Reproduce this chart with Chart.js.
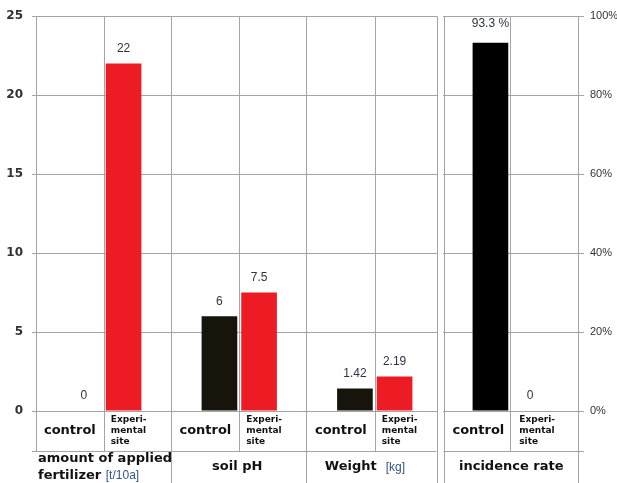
<!DOCTYPE html>
<html>
<head>
<meta charset="utf-8">
<script src="https://cdn.jsdelivr.net/npm/chart.js@4.4.1/dist/chart.umd.min.js"></script>
<style>
  html, body { margin: 0; padding: 0; background: #fff; }
  #wrap { width: 617px; height: 483px; }
</style>
</head>
<body>
<div id="wrap"><canvas id="chart" width="617" height="483"></canvas></div>
<script>
// groups along the x axis (two text lines for the first one)
const groups = [['amount of applied', 'fertilizer'], ['soil pH'], ['Weight'], ['incidence rate']];
const units = ['[t/10a]', '', '[kg]', ''];
const subLabels = ['control', ['Experi-', 'mental', 'site']];

// left axis values
const controlValues = [0, 6, 1.42, null];
const siteValues = [22, 7.5, 2.19, null];
// right axis values (%)
const incidenceControl = [null, null, null, 93.3];
const incidenceSite = [null, null, null, 0];

const leftMax = 25, leftStep = 5;
const rightMax = 100, rightStep = 20;

const GRID = '#a4a4a4';
const RED = '#ed1c24';
const DARK = '#17140c';
const TEXT = '#111';
const FONT = 'DejaVu Sans';

function line(ctx, x1, y1, x2, y2) {
  ctx.beginPath();
  ctx.moveTo(x1, y1);
  ctx.lineTo(x2, y2);
  ctx.stroke();
}

// vertical dividers, the gap before the last panel and the table under the plot
const tablePlugin = {
  id: 'table',
  beforeDatasetsDraw(chart) {
    const { ctx, chartArea: a } = chart;
    const step = (a.right - a.left) / groups.length;
    const bottom = chart.height;
    const row1 = a.bottom + 40;
    const gapL = a.left + 3 * step - 6, gapR = a.left + 3 * step + 1;
    ctx.save();
    ctx.fillStyle = '#fff';
    ctx.fillRect(gapL + 0.5, 0, gapR - gapL - 1, bottom);
    ctx.strokeStyle = GRID;
    ctx.lineWidth = 1;
    line(ctx, a.left - 4, row1 + 0.5, gapL, row1 + 0.5);
    line(ctx, gapR, row1 + 0.5, a.right + 6, row1 + 0.5);
    line(ctx, a.left + 0.5, a.top, a.left + 0.5, row1);
    for (let i = 0; i < groups.length; i++) {
      const mid = Math.round(a.left + (i + 0.5) * step) + 0.5;
      line(ctx, mid, a.top, mid, row1);
    }
    [a.left + step - 1, a.left + 2 * step - 1].forEach(x => {
      x = Math.round(x) + 0.5;
      line(ctx, x, a.top, x, bottom);
    });
    line(ctx, Math.round(gapL) + 0.5, a.top, Math.round(gapL) + 0.5, bottom);
    line(ctx, Math.round(gapR) + 0.5, a.top, Math.round(gapR) + 0.5, bottom);
    line(ctx, Math.round(a.right) + 0.5, a.top, Math.round(a.right) + 0.5, bottom);
    ctx.restore();
  },
  afterDraw(chart) {
    const { ctx, chartArea: a } = chart;
    const step = (a.right - a.left) / groups.length;
    ctx.save();
    ctx.fillStyle = TEXT;
    ctx.textBaseline = 'middle';

    // value labels
    ctx.font = '12px "Liberation Sans"';
    ctx.fillStyle = '#2e3344';
    ctx.textAlign = 'center';
    chart.data.datasets.forEach((ds, di) => {
      const meta = chart.getDatasetMeta(di);
      ds.data.forEach((v, i) => {
        if (v === null) return;
        const el = meta.data[i];
        const txt = ds.pct && v ? v + ' %' : String(v);
        ctx.fillText(txt, el.x, el.y - (ds.pct && v ? 19 : 15));
      });
    });

    // first table row: control / Experimental site
    for (let i = 0; i < groups.length; i++) {
      const left = i < 3 ? a.left + i * step : a.left + i * step + 2;
      const half = step / 2;
      ctx.fillStyle = TEXT;
      ctx.textAlign = 'center';
      ctx.font = 'bold 13px ' + FONT;
      ctx.fillText(subLabels[0], left + half / 2, a.bottom + 20);
      ctx.textAlign = 'left';
      ctx.font = 'bold 9px ' + FONT;
      subLabels[1].forEach((t, k) => ctx.fillText(t, left + half + 7, a.bottom + 9 + k * 11));
    }

    // second table row: group names
    const y2 = a.bottom + 56;
    groups.forEach((g, i) => {
      const cx = a.left + (i + 0.5) * step;
      ctx.font = 'bold 13px ' + FONT;
      ctx.fillStyle = TEXT;
      if (g.length > 1) {
        ctx.textAlign = 'left';
        ctx.fillText(g[0], a.left + 2, y2 - 8);
        ctx.fillText(g[1], a.left + 2, y2 + 9);
        const w = ctx.measureText(g[1] + ' ').width;
        ctx.font = '12px "Liberation Sans"';
        ctx.fillStyle = '#34528c';
        ctx.fillText(units[i], a.left + 2 + w, y2 + 9);
      } else if (units[i]) {
        ctx.textAlign = 'left';
        const w1 = ctx.measureText(g[0] + '  ').width;
        const x0 = cx - 50;
        ctx.fillText(g[0], x0, y2);
        ctx.font = '12px "Liberation Sans"';
        ctx.fillStyle = '#34528c';
        ctx.fillText(units[i], x0 + w1, y2 + 1);
      } else {
        ctx.textAlign = 'center';
        ctx.fillText(g[0], i === 3 ? cx + 1 : cx - 2, y2);
      }
    });
    ctx.restore();
  }
};

new Chart(document.getElementById('chart'), {
  type: 'bar',
  data: {
    labels: groups.map(g => g.join(' ')),
    datasets: [
      { label: 'control', data: controlValues, backgroundColor: DARK, yAxisID: 'y' },
      { label: 'Experimental site', data: siteValues, backgroundColor: RED, yAxisID: 'y' },
      { label: 'control', data: incidenceControl, backgroundColor: '#000', yAxisID: 'y1', pct: true },
      { label: 'Experimental site', data: incidenceSite, backgroundColor: RED, yAxisID: 'y1', pct: true }
    ]
  },
  options: {
    responsive: false,
    animation: false,
    layout: { padding: { top: 14, left: 0, right: 0, bottom: 0 } },
    plugins: { legend: { display: false }, tooltip: { enabled: false } },
    datasets: { bar: { categoryPercentage: 0.585, barPercentage: 0.9, skipNull: true } },
    scales: {
      x: {
        grid: { display: false },
        border: { display: false },
        ticks: { display: false },
        afterFit: s => { s.height = 72; }
      },
      y: {
        min: 0, max: leftMax,
        ticks: { stepSize: leftStep, padding: 9, color: '#333', font: { family: FONT, size: 12, weight: 'bold' } },
        grid: { color: GRID, tickLength: 4 },
        border: { display: false },
        afterFit: s => { s.width = 36; }
      },
      y1: {
        position: 'right',
        min: 0, max: rightMax,
        ticks: { stepSize: rightStep, padding: 6, color: '#333', font: { family: 'Liberation Sans', size: 11 }, callback: v => v + '%' },
        grid: { drawOnChartArea: false, color: GRID, tickLength: 6 },
        border: { display: false },
        afterFit: s => { s.width = 39; }
      }
    }
  },
  plugins: [tablePlugin]
});
</script>
</body>
</html>
